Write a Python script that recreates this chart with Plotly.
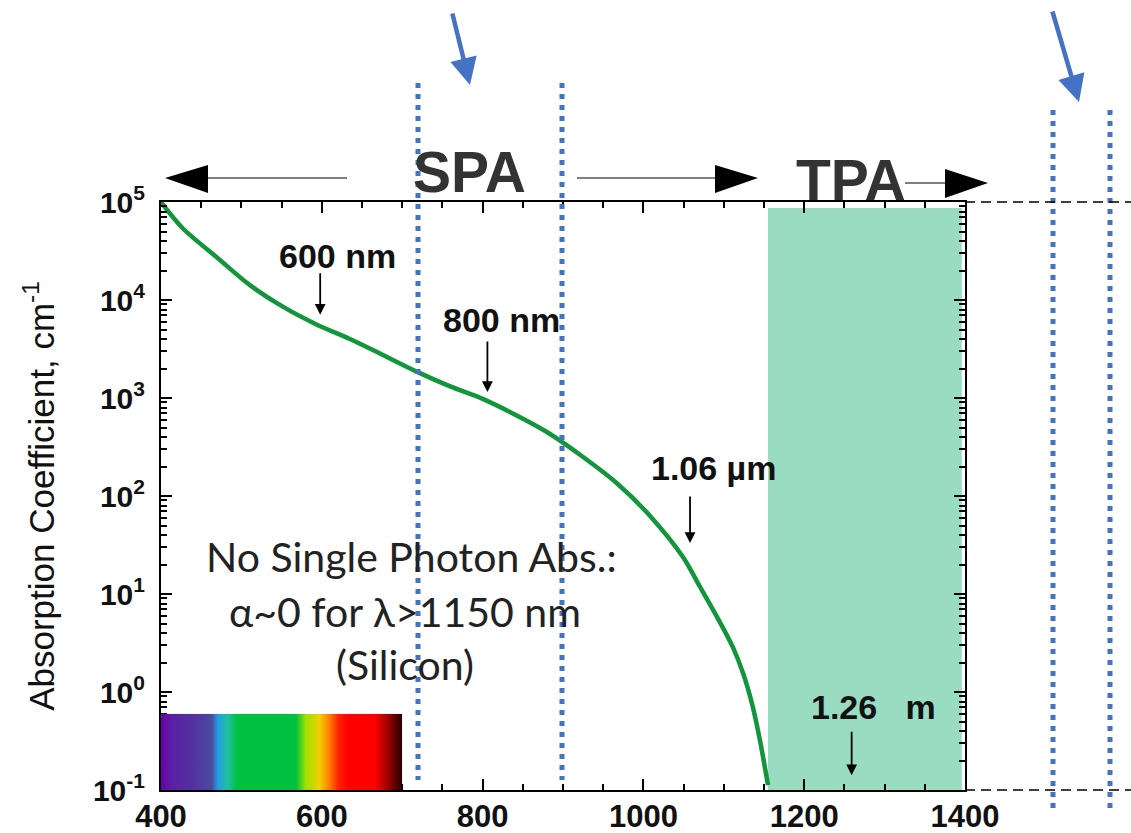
import math
import urllib.parse
import plotly.graph_objects as go

# ---- data ----
wavelength_nm = [400, 427, 470, 511, 552, 594, 635, 676, 718, 759, 800, 840, 880, 925,
                 967, 1008, 1049, 1070, 1092, 1111, 1124, 1136, 1145, 1155]
alpha_cm = [1.0e5, 5.4e4, 2.7e4, 1.41e4, 8.5e3, 5.6e3, 4.0e3, 2.75e3, 1.86e3, 1.32e3,
            9.8e2, 6.8e2, 4.5e2, 2.5e2, 1.35e2, 63, 24, 12.0, 5.75, 2.9, 1.55, 0.71, 0.32, 0.112]

x_ticks = [400, 600, 800, 1000, 1200, 1400]
y_tick_vals = [0.1, 1, 10, 100, 1000, 10000, 100000]
y_tick_text = ["10<sup>-1</sup>", "10<sup>0</sup>", "10<sup>1</sup>", "10<sup>2</sup>",
               "10<sup>3</sup>", "10<sup>4</sup>", "10<sup>5</sup>"]
y_minor = [m * 10 ** e for e in range(-1, 5) for m in range(2, 10)]

tpa_region_nm = [1155, 1396]
tpa_region_alpha = [0.1, 8.7e4]

spectrum_nm = [400, 414, 440, 463, 471, 483, 495, 568, 580, 597, 609, 621, 633, 666, 682, 700]
spectrum_col = ["#6a00a8", "#5a20a6", "#5232a0", "#4a4aa0", "#20a0e0", "#20c0a0", "#00c040",
                "#00c040", "#a0e000", "#f0d000", "#ff8000", "#ff2000", "#ff0000", "#ff0000",
                "#a00000", "#200000"]
spectrum_alpha = [0.1, 0.6]

labels = [
    dict(text="600 nm", x=619, y=4.45, hx=598, hy=3.85, ay=-43),
    dict(text="800 nm", x=824, y=3.80, hx=806, hy=3.06, ay=-52),
    dict(text="1.06 \u00b5m", x=1087, y=2.29, hx=1058, hy=1.52, ay=-48),
    dict(text="1.26\u00a0\u00a0\u00a0m", x=1286, y=-0.15, hx=1259, hy=-0.85, ay=-45),
]

note_lines = ["No Single Photon Abs.:", "\u03b1~0 for \u03bb>1150 nm", "(Silicon)"]
note_x = [712, 703, 703]
note_y = [1.38, 0.82, 0.28]

# ---- figure ----
fig = go.Figure()
fig.add_trace(go.Scatter(x=wavelength_nm, y=alpha_cm, mode="lines",
                         line=dict(color="#12963c", width=4.5, shape="spline", smoothing=0.9),
                         showlegend=False, hoverinfo="skip"))

shapes = []
shapes.append(dict(type="rect", xref="x", yref="y", x0=tpa_region_nm[0], x1=tpa_region_nm[1],
                   y0=tpa_region_alpha[0], y1=tpa_region_alpha[1],
                   fillcolor="#9adcc1", line=dict(width=0), layer="below"))


def px2x(px):
    return (px - 161) / 804.0


def py2y(py):
    return (790 - py) / 588.0


for px, top, bot in [(418, 83, 780), (562, 83, 780), (1053, 110, 810), (1110, 110, 810)]:
    shapes.append(dict(type="line", xref="paper", yref="paper", x0=px2x(px), x1=px2x(px),
                       y0=py2y(top), y1=py2y(bot),
                       line=dict(color="#4472c4", width=5, dash="5px,6px")))
for py in [202, 790]:
    shapes.append(dict(type="line", xref="paper", yref="paper", x0=1.0, x1=px2x(1131),
                       y0=py2y(py), y1=py2y(py),
                       line=dict(color="black", width=1.5, dash="10px,6px")))


def tri(tip, base_x, ytop, ybot, ymid):
    return ("M %f %f L %f %f L %f %f Z" % (px2x(tip), py2y(ymid), px2x(base_x), py2y(ytop),
                                           px2x(base_x), py2y(ybot)))


for x0, x1, y in [(208, 347, 178), (577, 715, 178), (905, 945, 183)]:
    shapes.append(dict(type="line", xref="paper", yref="paper", x0=px2x(x0), x1=px2x(x1),
                       y0=py2y(y), y1=py2y(y), line=dict(color="#555555", width=1.5)))
for tip, base, yt, yb, ym in [(165, 208, 165, 193, 178), (758, 715, 165, 193, 178),
                              (988, 945, 169, 198, 183)]:
    shapes.append(dict(type="path", xref="paper", yref="paper", path=tri(tip, base, yt, yb, ym),
                       fillcolor="black", line=dict(width=0)))

annotations = []
font_lbl = dict(family="Liberation Sans, Arial", size=34, color="#111111")
for lb in labels:
    annotations.append(dict(x=lb["x"], y=lb["y"], xref="x", yref="y", text="<b>%s</b>" % lb["text"],
                            showarrow=False, font=font_lbl, xanchor="center", yanchor="middle"))
    annotations.append(dict(x=lb["hx"], y=lb["hy"], xref="x", yref="y", text="",
                            showarrow=True, ax=0, ay=lb["ay"], arrowhead=2, arrowsize=1.2,
                            arrowwidth=1.8, arrowcolor="black"))

font_big = dict(family="Lato, Liberation Sans", size=41, color="#222222")
for t, nx, ny in zip(note_lines, note_x, note_y):
    annotations.append(dict(x=nx, y=ny, xref="x", yref="y", text=t, showarrow=False,
                            font=font_big, xanchor="center", yanchor="middle"))

font_head = dict(family="Liberation Sans, Arial", size=57, color="#333333")
annotations.append(dict(x=px2x(469), y=py2y(172), xref="paper", yref="paper", text="<b>SPA</b>",
                        showarrow=False, font=font_head, xanchor="center", yanchor="middle"))
annotations.append(dict(x=px2x(851), y=py2y(180), xref="paper", yref="paper", text="<b>TPA</b>",
                        showarrow=False, font=font_head, xanchor="center", yanchor="middle"))

for hx, hy, tx, ty in [(470, 85, 452, 12), (1079, 102, 1052, 10)]:
    annotations.append(dict(x=px2x(hx), y=py2y(hy), xref="paper", yref="paper", text="",
                            showarrow=True, ax=tx - hx, ay=ty - hy, arrowhead=2, arrowsize=1.2,
                            arrowwidth=4.5, arrowcolor="#4472c4"))

span = spectrum_nm[-1] - spectrum_nm[0]
stops = "".join('<stop offset="%.4f" stop-color="%s"/>' % ((w - spectrum_nm[0]) / span, c)
                for w, c in zip(spectrum_nm, spectrum_col))
svg = ('<svg xmlns="http://www.w3.org/2000/svg" width="300" height="20" viewBox="0 0 300 20" '
       'preserveAspectRatio="none"><defs><linearGradient id="g" x1="0" x2="1" y1="0" y2="0">'
       + stops + '</linearGradient></defs><rect width="300" height="20" fill="url(#g)"/></svg>')
src = "data:image/svg+xml;charset=utf-8," + urllib.parse.quote(svg)
fig.add_layout_image(dict(source=src, xref="x", yref="y", x=spectrum_nm[0],
                          y=math.log10(spectrum_alpha[1]), sizex=span,
                          sizey=math.log10(spectrum_alpha[1]) - math.log10(spectrum_alpha[0]),
                          xanchor="left", yanchor="top", sizing="stretch", layer="above"))

tickfont_x = dict(family="Liberation Sans, Arial", size=31, color="#111111", weight="bold")
tickfont_y = dict(family="Liberation Sans, Arial", size=30, color="#111111", weight="bold")
fig.update_layout(
    width=1131, height=833,
    margin=dict(l=161, r=166, t=202, b=43),
    paper_bgcolor="white", plot_bgcolor="white",
    shapes=shapes, annotations=annotations,
    xaxis=dict(range=[400, 1400], tickvals=x_ticks, ticks="inside", ticklen=11, tickwidth=1.5,
               tickcolor="black", showline=True, linecolor="black", linewidth=2, mirror="ticks",
               showgrid=False, zeroline=False, tickfont=tickfont_x, ticklabelstandoff=-2,
               automargin=False,
               minor=dict(dtick=50, tick0=400, ticks="inside", ticklen=6, tickcolor="black",
                          tickwidth=1.5, showgrid=False)),
    yaxis=dict(type="log", range=[-1, 5], tickvals=y_tick_vals, ticktext=y_tick_text,
               ticks="inside", ticklen=11, tickwidth=1.5, tickcolor="black", showline=True,
               linecolor="black", linewidth=2, mirror="ticks", showgrid=False, zeroline=False,
               tickfont=tickfont_y, ticklabelstandoff=8, automargin=False,
               minor=dict(tickvals=y_minor, ticks="inside", ticklen=6, tickcolor="black",
                          tickwidth=1.5, showgrid=False),
               title=dict(text="Absorption Coefficient, cm<sup>-1</sup>",
                          font=dict(family="Liberation Sans, Arial", size=35, color="#111111"),
                          standoff=28)),
)

fig.write_html("out.html")
